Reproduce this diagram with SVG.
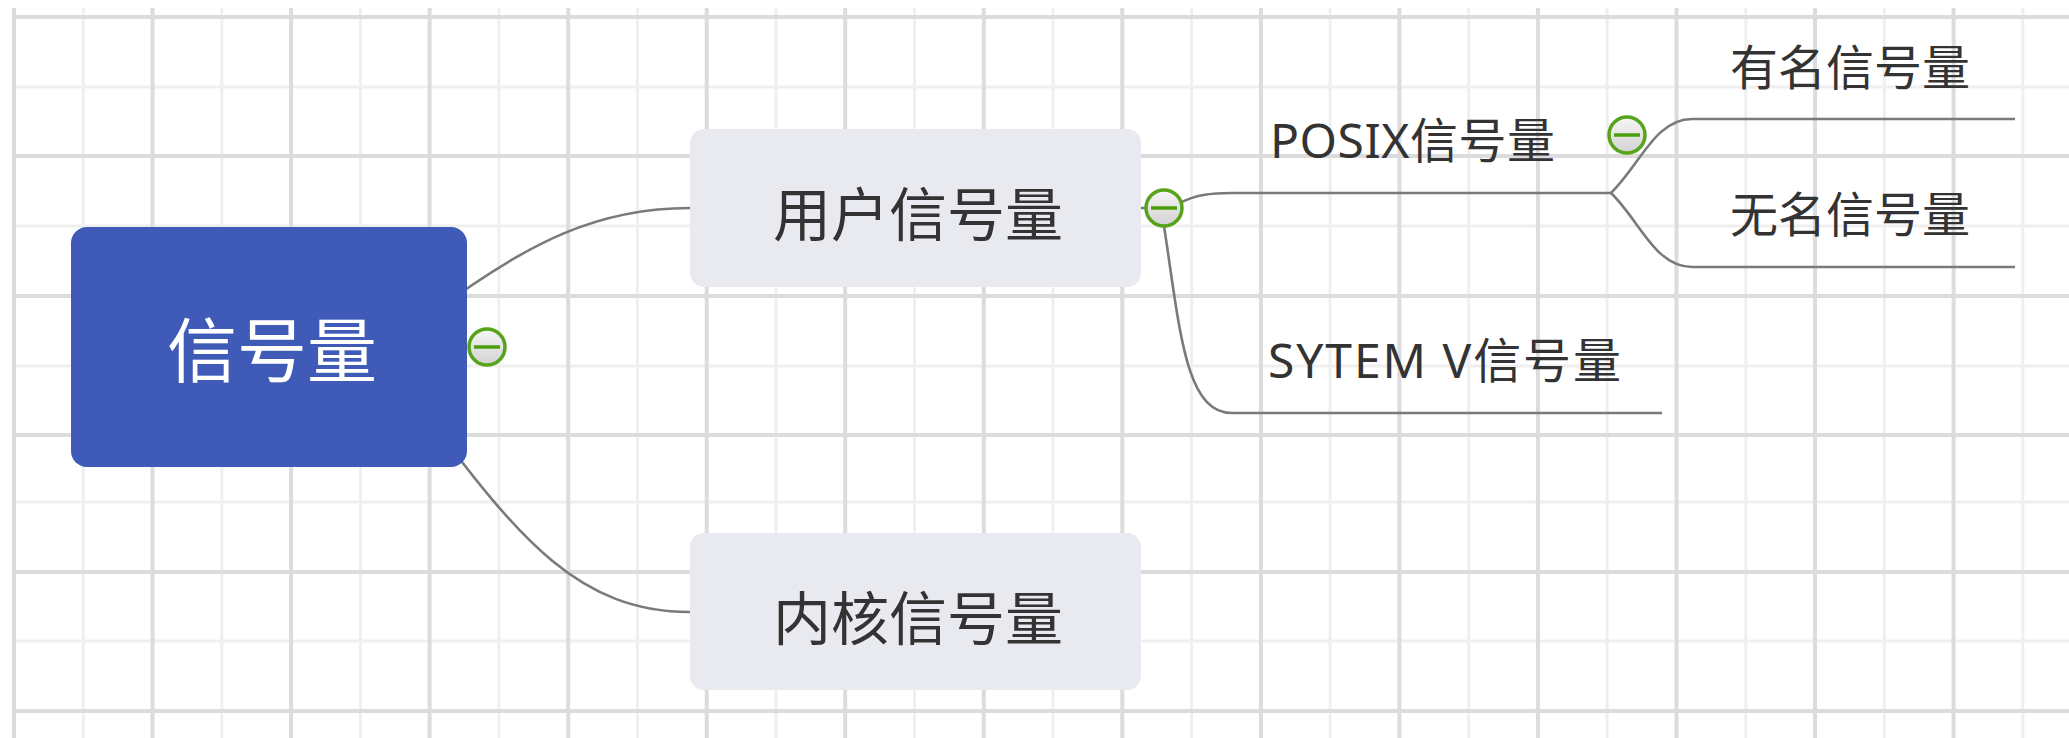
<svg xmlns="http://www.w3.org/2000/svg" width="2069" height="738" viewBox="0 0 2069 738">
<defs>
<style>
.gl{stroke:#efefef;stroke-width:3}
.gd{stroke:#dcdcdc;stroke-width:4}
.edge{fill:none;stroke:#7a7a7a;stroke-width:2.6}
.topic{fill:#e9eaf0}
.t{font-family:"Noto Sans CJK SC","Noto Sans",sans-serif;fill:#333333}
.tl{font-family:"Noto Sans","Noto Sans CJK SC",sans-serif;fill:#333333}
.ring{fill:url(#cg);stroke:#57a41b;stroke-width:3.5}
.minus{stroke:#4aa00c;stroke-width:3.5}
</style>
<linearGradient id="cg" x1="0" y1="0" x2="0" y2="1">
<stop offset="0" stop-color="#f6f6f6"/>
<stop offset="1" stop-color="#d2d2d2"/>
</linearGradient>
</defs>
<rect width="2069" height="738" fill="#ffffff"/>
<g id="grid">
<g class="gl">
<line x1="83.3" y1="8" x2="83.3" y2="738"/><line x1="221.8" y1="8" x2="221.8" y2="738"/><line x1="360.4" y1="8" x2="360.4" y2="738"/><line x1="498.9" y1="8" x2="498.9" y2="738"/><line x1="637.4" y1="8" x2="637.4" y2="738"/><line x1="776" y1="8" x2="776" y2="738"/><line x1="914.5" y1="8" x2="914.5" y2="738"/><line x1="1053" y1="8" x2="1053" y2="738"/><line x1="1191.6" y1="8" x2="1191.6" y2="738"/><line x1="1330.1" y1="8" x2="1330.1" y2="738"/><line x1="1468.7" y1="8" x2="1468.7" y2="738"/><line x1="1607.2" y1="8" x2="1607.2" y2="738"/><line x1="1745.8" y1="8" x2="1745.8" y2="738"/><line x1="1884.3" y1="8" x2="1884.3" y2="738"/><line x1="2022.8" y1="8" x2="2022.8" y2="738"/>
<line x1="12" y1="87" x2="2069" y2="87"/><line x1="12" y1="226" x2="2069" y2="226"/><line x1="12" y1="366" x2="2069" y2="366"/><line x1="12" y1="502" x2="2069" y2="502"/><line x1="12" y1="641" x2="2069" y2="641"/>
</g>
<g class="gd">
<line x1="14" y1="8" x2="14" y2="738"/><line x1="152.5" y1="8" x2="152.5" y2="738"/><line x1="291.1" y1="8" x2="291.1" y2="738"/><line x1="429.6" y1="8" x2="429.6" y2="738"/><line x1="568.2" y1="8" x2="568.2" y2="738"/><line x1="706.7" y1="8" x2="706.7" y2="738"/><line x1="845.2" y1="8" x2="845.2" y2="738"/><line x1="983.8" y1="8" x2="983.8" y2="738"/><line x1="1122.3" y1="8" x2="1122.3" y2="738"/><line x1="1260.9" y1="8" x2="1260.9" y2="738"/><line x1="1399.4" y1="8" x2="1399.4" y2="738"/><line x1="1537.9" y1="8" x2="1537.9" y2="738"/><line x1="1676.5" y1="8" x2="1676.5" y2="738"/><line x1="1815" y1="8" x2="1815" y2="738"/><line x1="1953.6" y1="8" x2="1953.6" y2="738"/>
<line x1="12" y1="17" x2="2069" y2="17"/><line x1="12" y1="156" x2="2069" y2="156"/><line x1="12" y1="296" x2="2069" y2="296"/><line x1="12" y1="435" x2="2069" y2="435"/><line x1="12" y1="572" x2="2069" y2="572"/><line x1="12" y1="711" x2="2069" y2="711"/>
</g>
</g>
<g id="connectors">
<path class="edge" d="M430,315 C530,240 600,208 690,208"/>
<path class="edge" d="M430,420 C520,540 580,612 690,612"/>
<path class="edge" d="M1141,208 L1165,208"/>
<path class="edge" d="M1180,203 C1195,195 1210,193 1232,193 L1611,193"/>
<path class="edge" d="M1164,226 C1180,330 1185,413 1232,413 L1662,413"/>
<path class="edge" d="M1611,193 C1640,165 1655,119 1692,119 L2015,119"/>
<path class="edge" d="M1611,193 C1640,221 1655,267 1692,267 L2015,267"/>
</g>
<g id="node-root">
<rect x="71" y="227" width="396" height="240" rx="16" fill="#3f5bb7"/>
<text x="272" y="377" font-size="70" text-anchor="middle" class="t" style="fill:#ffffff">信号量</text>
<circle class="ring" cx="487" cy="347" r="18"/>
<line class="minus" x1="474" y1="347" x2="500" y2="347"/>
</g>
<g id="node-user">
<rect class="topic" x="690" y="129" width="451" height="158" rx="14"/>
<text x="918" y="236" font-size="58" text-anchor="middle" class="t">用户信号量</text>
<circle class="ring" cx="1164" cy="208" r="18"/>
<line class="minus" x1="1151" y1="208" x2="1177" y2="208"/>
</g>
<g id="node-kernel">
<rect class="topic" x="690" y="533" width="451" height="157" rx="14"/>
<text x="918" y="640" font-size="58" text-anchor="middle" class="t">内核信号量</text>
</g>
<g id="node-posix">
<text x="1270" y="158" font-size="48" class="tl" textLength="285" lengthAdjust="spacing">POSIX信号量</text>
<circle class="ring" cx="1627" cy="135" r="18"/>
<line class="minus" x1="1614" y1="135" x2="1640" y2="135"/>
</g>
<g id="node-sysv">
<text x="1268" y="378" font-size="48" class="tl" textLength="353" lengthAdjust="spacing">SYTEM V信号量</text>
</g>
<g id="node-named">
<text x="1730" y="85" font-size="48" class="t">有名信号量</text>
</g>
<g id="node-unnamed">
<text x="1730" y="232" font-size="48" class="t">无名信号量</text>
</g>
</svg>
